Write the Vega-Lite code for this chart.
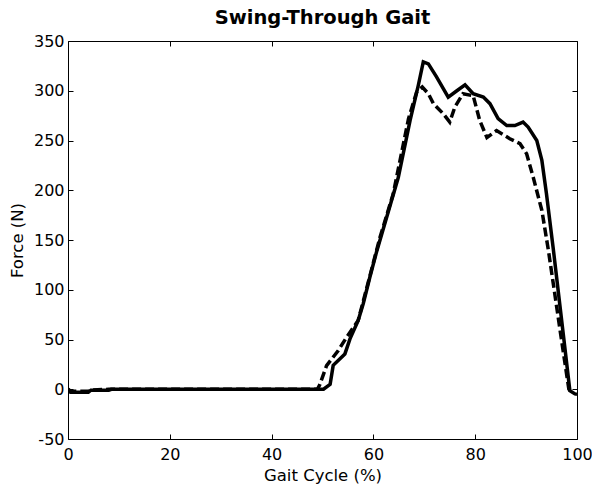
{
  "$schema": "https://vega.github.io/schema/vega-lite/v6.json",
  "width": 509,
  "height": 398,
  "autosize": {"type": "none"},
  "padding": {"left": 68, "top": 41, "right": 15, "bottom": 46},
  "background": "white",
  "title": {"text": "Swing-Through Gait", "font": "DejaVu Sans", "fontSize": 19.5, "fontWeight": "bold", "color": "black", "anchor": "middle", "offset": 5},
  "config": {
    "view": {"stroke": "black", "strokeWidth": 1},
    "axis": {
      "labelFont": "DejaVu Sans", "labelFontSize": 16, "labelColor": "black",
      "titleFont": "DejaVu Sans", "titleFontSize": 16.5, "titleFontWeight": "normal", "titleColor": "black",
      "domain": false, "tickColor": "black", "tickSize": 5, "tickWidth": 1, "offset": -5, "grid": false
    }
  },
  "datasets": {
    "gait": [
      {"cycle": 0, "force": 0, "series": "A"},
      {"cycle": 0.5, "force": -3, "series": "A"},
      {"cycle": 4, "force": -3, "series": "A"},
      {"cycle": 4.5, "force": -1, "series": "A"},
      {"cycle": 8, "force": -1, "series": "A"},
      {"cycle": 8.5, "force": 0, "series": "A"},
      {"cycle": 50.2, "force": 0, "series": "A"},
      {"cycle": 51.5, "force": 5, "series": "A"},
      {"cycle": 52.1, "force": 24, "series": "A"},
      {"cycle": 54.4, "force": 35.5, "series": "A"},
      {"cycle": 55.4, "force": 50.6, "series": "A"},
      {"cycle": 57, "force": 69, "series": "A"},
      {"cycle": 58, "force": 86, "series": "A"},
      {"cycle": 59.3, "force": 112.6, "series": "A"},
      {"cycle": 60.6, "force": 137.7, "series": "A"},
      {"cycle": 64.9, "force": 213, "series": "A"},
      {"cycle": 67.2, "force": 270, "series": "A"},
      {"cycle": 68.8, "force": 305, "series": "A"},
      {"cycle": 69.8, "force": 329, "series": "A"},
      {"cycle": 70.8, "force": 327, "series": "A"},
      {"cycle": 72.4, "force": 314, "series": "A"},
      {"cycle": 74.7, "force": 293.6, "series": "A"},
      {"cycle": 76.4, "force": 300, "series": "A"},
      {"cycle": 78, "force": 306, "series": "A"},
      {"cycle": 79.6, "force": 297, "series": "A"},
      {"cycle": 81.6, "force": 293.6, "series": "A"},
      {"cycle": 82.9, "force": 287, "series": "A"},
      {"cycle": 84.5, "force": 272, "series": "A"},
      {"cycle": 86.2, "force": 265, "series": "A"},
      {"cycle": 87.8, "force": 265, "series": "A"},
      {"cycle": 89.4, "force": 268.5, "series": "A"},
      {"cycle": 90.4, "force": 263.5, "series": "A"},
      {"cycle": 92.1, "force": 250, "series": "A"},
      {"cycle": 93.1, "force": 230, "series": "A"},
      {"cycle": 94, "force": 196.5, "series": "A"},
      {"cycle": 95.3, "force": 142.8, "series": "A"},
      {"cycle": 97.3, "force": 55.6, "series": "A"},
      {"cycle": 98.6, "force": -1.4, "series": "A"},
      {"cycle": 99.6, "force": -4.7, "series": "A"},
      {"cycle": 100, "force": -5, "series": "A"},
      {"cycle": 0, "force": 0, "series": "B"},
      {"cycle": 0.5, "force": -2, "series": "B"},
      {"cycle": 4, "force": -2, "series": "B"},
      {"cycle": 4.5, "force": -1, "series": "B"},
      {"cycle": 8, "force": 0, "series": "B"},
      {"cycle": 49, "force": 0, "series": "B"},
      {"cycle": 49.5, "force": 5, "series": "B"},
      {"cycle": 50.8, "force": 23.7, "series": "B"},
      {"cycle": 53.1, "force": 39, "series": "B"},
      {"cycle": 54.7, "force": 52, "series": "B"},
      {"cycle": 57, "force": 69, "series": "B"},
      {"cycle": 58.6, "force": 100, "series": "B"},
      {"cycle": 61.3, "force": 152.8, "series": "B"},
      {"cycle": 63.9, "force": 196.5, "series": "B"},
      {"cycle": 66.9, "force": 272, "series": "B"},
      {"cycle": 68.5, "force": 298.7, "series": "B"},
      {"cycle": 69.6, "force": 303.7, "series": "B"},
      {"cycle": 70.8, "force": 297, "series": "B"},
      {"cycle": 71.8, "force": 287, "series": "B"},
      {"cycle": 73.7, "force": 277, "series": "B"},
      {"cycle": 75, "force": 268.5, "series": "B"},
      {"cycle": 76, "force": 283.6, "series": "B"},
      {"cycle": 77.6, "force": 297, "series": "B"},
      {"cycle": 79.6, "force": 295, "series": "B"},
      {"cycle": 80.9, "force": 270, "series": "B"},
      {"cycle": 82.3, "force": 253, "series": "B"},
      {"cycle": 84.2, "force": 260, "series": "B"},
      {"cycle": 86.8, "force": 251.8, "series": "B"},
      {"cycle": 88.8, "force": 246.8, "series": "B"},
      {"cycle": 90.1, "force": 236.7, "series": "B"},
      {"cycle": 91.4, "force": 213, "series": "B"},
      {"cycle": 93.1, "force": 179.7, "series": "B"},
      {"cycle": 94.4, "force": 139, "series": "B"},
      {"cycle": 96.8, "force": 55, "series": "B"},
      {"cycle": 98.4, "force": 0, "series": "B"},
      {"cycle": 99, "force": -3, "series": "B"}
    ]
  },
  "data": {"name": "gait"},
  "resolve": {"axis": {"x": "independent", "y": "independent"}},
  "layer": [
    {
      "transform": [{"filter": "datum.series === 'A'"}],
      "mark": {"type": "line", "color": "black", "strokeWidth": 3.5, "clip": true},
      "encoding": {
        "x": {"field": "cycle", "type": "quantitative", "scale": {"domain": [0, 100], "nice": false, "zero": false},
              "axis": {"title": "Gait Cycle (%)", "values": [0, 20, 40, 60, 80, 100], "labelPadding": 7, "titlePadding": 5, "labelFlush": false}},
        "y": {"field": "force", "type": "quantitative", "scale": {"domain": [-50, 350], "nice": false, "zero": false},
              "axis": {"title": "Force (N)", "values": [-50, 0, 50, 100, 150, 200, 250, 300, 350], "labelPadding": 4, "titlePadding": 8, "labelFlush": false,
                       "labelExpr": "datum.value < 0 ? '-' + abs(datum.value) : datum.label"}}
      }
    },
    {
      "transform": [{"filter": "datum.series === 'B'"}],
      "mark": {"type": "line", "color": "black", "strokeWidth": 3.5, "strokeDash": [9, 4], "clip": true},
      "encoding": {
        "x": {"field": "cycle", "type": "quantitative",
              "axis": {"orient": "top", "title": null, "labels": false, "values": [0, 20, 40, 60, 80, 100]}},
        "y": {"field": "force", "type": "quantitative",
              "axis": {"orient": "right", "title": null, "labels": false, "values": [-50, 0, 50, 100, 150, 200, 250, 300, 350]}}
      }
    }
  ]
}
